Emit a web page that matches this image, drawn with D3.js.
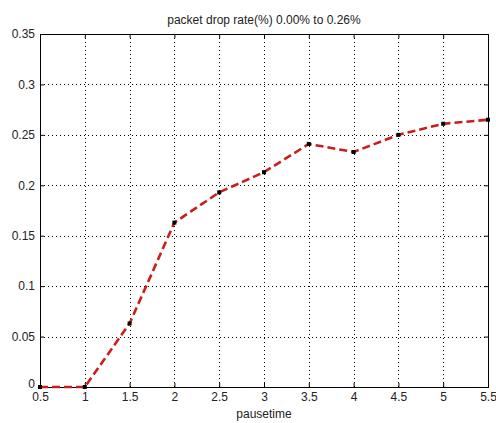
<!DOCTYPE html>
<html><head><meta charset="utf-8">
<script src="https://cdn.jsdelivr.net/npm/d3@7"></script>
<style>body{margin:0;background:#fff;} text{font-family:"Liberation Sans",Arial,sans-serif;}</style>
</head><body><svg id="c" width="496" height="423"></svg>
<script>
const pausetime = [0.5,1,1.5,2,2.5,3,3.5,4,4.5,5,5.5];
const dropRate = [0,0,0.063,0.163,0.193,0.213,0.241,0.233,0.250,0.261,0.265];
const xTicks = [0.5,1,1.5,2,2.5,3,3.5,4,4.5,5,5.5];
const yTicks = [0,0.05,0.1,0.15,0.2,0.25,0.3,0.35];
const title = "packet drop rate(%) 0.00% to 0.26%";
const xLabel = "pausetime";

const svg = d3.select("#c");
const L=40,R=488,T=34,B=387;
const x = d3.scaleLinear().domain([0.5,5.5]).range([L,R]);
const y = d3.scaleLinear().domain([0,0.35]).range([B,T]);

// grid
const g = svg.append("g");
g.selectAll(".vg").data(xTicks.slice(1,-1)).enter().append("line")
 .attr("x1",d=>Math.round(x(d))+0.5).attr("x2",d=>Math.round(x(d))+0.5).attr("y1",T).attr("y2",B)
 .attr("stroke","#000").attr("stroke-width",1).attr("stroke-dasharray","1,3");
g.selectAll(".hg").data(yTicks.slice(1,-1)).enter().append("line")
 .attr("y1",d=>Math.round(y(d))+0.5).attr("y2",d=>Math.round(y(d))+0.5).attr("x1",L).attr("x2",R)
 .attr("stroke","#000").attr("stroke-width",1).attr("stroke-dasharray","1,3");

// axes
const xa = svg.append("g").attr("transform",`translate(0,${B})`)
 .call(d3.axisBottom(x).tickValues(xTicks).tickSize(-4).tickPadding(7).tickFormat(d3.format("")));
const ya = svg.append("g").attr("transform",`translate(${L},0)`)
 .call(d3.axisLeft(y).tickValues(yTicks).tickSize(-4).tickPadding(5).tickFormat(d=>d===0?"0":String(+d.toFixed(2))));
const xt = svg.append("g").attr("transform",`translate(0,${T})`)
 .call(d3.axisTop(x).tickValues(xTicks).tickSize(-4).tickFormat(""));
const yr = svg.append("g").attr("transform",`translate(${R},0)`)
 .call(d3.axisRight(y).tickValues(yTicks).tickSize(-4).tickFormat(""));
[xa,ya,xt,yr].forEach(a=>{a.select(".domain").attr("stroke","#000");a.selectAll(".tick line").attr("stroke","#000");
 a.selectAll("text").attr("font-size",12).attr("fill","#222").style("font-family","Liberation Sans, Arial, sans-serif");});
xa.selectAll(".tick text").attr("dy","0.6em");
ya.selectAll(".tick text").filter(d=>d===0).attr("dy","0.05em");

// line
const pts = pausetime.map((p,i)=>[p,dropRate[i]]);
const line = d3.line().x(d=>x(d[0])).y(d=>y(d[1]));
svg.append("path").datum(pts).attr("d",line).attr("fill","none")
 .attr("stroke","#c81e1e").attr("stroke-width",2.6).attr("stroke-dasharray","8,4");
svg.selectAll(".pt").data(pts).enter().append("rect")
 .attr("x",d=>x(d[0])-2).attr("y",d=>y(d[1])-2).attr("width",4).attr("height",4).attr("fill","#000");

svg.append("text").attr("x",264).attr("y",24).attr("text-anchor","middle").attr("font-size",12).attr("fill","#222").text(title);
svg.append("text").attr("x",264).attr("y",418).attr("text-anchor","middle").attr("font-size",12).attr("fill","#222").text(xLabel);
</script></body></html>
